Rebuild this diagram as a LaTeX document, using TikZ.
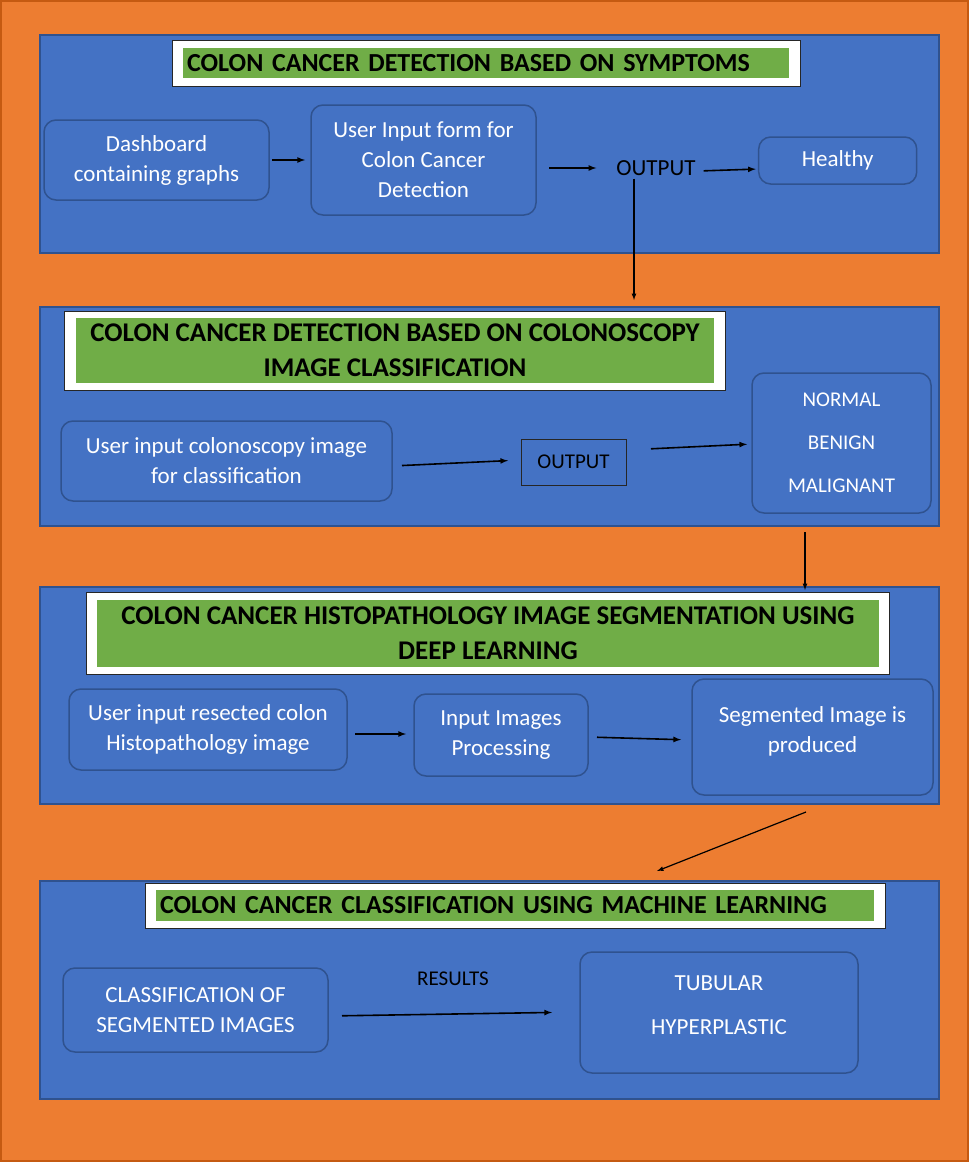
\documentclass[tikz,border=0pt]{standalone}
\usepackage{fontspec}
\setmainfont{Carlito}
\usepackage{xcolor}
\usetikzlibrary{arrows, positioning}
\definecolor{orangebg}{HTML}{ED7D31}
\definecolor{orangeline}{HTML}{C55A11}
\definecolor{panelblue}{HTML}{4472C4}
\definecolor{panelline}{HTML}{2F528F}
\definecolor{titlegreen}{HTML}{70AD47}
\tikzset{
  panel/.style={draw=panelline, fill=panelblue, line width=1.5pt, minimum width=899pt, inner sep=0pt, outer sep=0pt},
  whitebox/.style={draw=black!85, fill=white, line width=1pt, inner sep=0pt, outer sep=0pt},
  greenbox/.style={fill=titlegreen, inner sep=0pt, outer sep=0pt, font=\fontsize{26}{35}\selectfont\bfseries},
  stepbox/.style={draw=panelline, rounded corners=12pt, line width=1.5pt, text=white, align=center, inner sep=0pt, outer sep=0pt, font=\fontsize{23}{30}\selectfont},
  plain/.style={inner sep=3pt, font=\fontsize{23}{30}\selectfont},
  arrow/.style={->, >=latex, line width=1.6pt}
}
\begin{document}
\begin{tikzpicture}[x=1pt, y=-1pt]
    \useasboundingbox [fill=white] (0,0) rectangle (975,1167);
    \fill [orangebg, draw=orangeline, line width=1.5pt] (1,1) rectangle (968,1161);
    % the four panels
    \node [panel, minimum height=218pt] (p1) at (489.5,144) {};
    \node [panel, minimum height=219pt] (p2) at (489.5,416.5) {};
    \node [panel, minimum height=217pt] (p3) at (489.5,695.5) {};
    \node [panel, minimum height=218pt] (p4) at (489.5,990) {};
    % panel 1
    \node [whitebox, minimum width=628pt, minimum height=46pt] (t1box) at (486,63) {};
    \node [greenbox, minimum width=606pt, minimum height=30pt, text width=598pt, align=left] (t1) at (486,63) {COLON CANCER DETECTION BASED ON SYMPTOMS};
    \node [stepbox, minimum width=225pt, minimum height=80pt] (dash) at (156.5,160) {Dashboard\\containing graphs};
    \node [right=42pt of dash, stepbox, minimum width=225pt, minimum height=110pt] (form) {User Input form for\\Colon Cancer\\Detection};
    \node [plain] (out1) at (656,168) {OUTPUT};
    \node [right=60pt of out1, yshift=7.5pt, stepbox, minimum width=158pt, minimum height=47pt] (healthy) {Healthy};
    \draw [arrow, shorten <=3pt, shorten >=6pt] (dash) -- (form);
    \draw [arrow, shorten <=13pt, shorten >=17pt] (form.east |- out1.west) -- (out1.west);
    \draw [arrow, shorten <=5pt, shorten >=3pt] ([yshift=-3pt]out1.east) -- ([yshift=-8.5pt]healthy.west);
    \draw [arrow, line width=1.2pt, shorten >=7pt] ([xshift=-22pt]out1.south) -- ([xshift=-22pt]out1.south |- p2.north);
    % panel 2
    \node [whitebox, minimum width=661pt, minimum height=79pt] (t2box) at (394.5,350.5) {};
    \node [greenbox, minimum width=638pt, minimum height=65pt, align=center, font=\fontsize{27}{35}\selectfont\bfseries] (t2) at (395,350.5) {COLON CANCER DETECTION BASED ON COLONOSCOPY\\IMAGE CLASSIFICATION};
    \node [stepbox, minimum width=331pt, minimum height=80pt] (in2) at (226.5,461) {User input colonoscopy image\\for classification};
    \node [draw=black!85, line width=1pt, minimum width=105pt, minimum height=46pt, inner sep=0pt, outer sep=0pt, font=\fontsize{21}{30}\selectfont] (out2) at (573.5,462) {OUTPUT};
    \node [stepbox, minimum width=179pt, minimum height=140pt, font=\fontsize{21}{43}\selectfont] (res2) at (841.5,443) {NORMAL\\BENIGN\\MALIGNANT};
    \draw [arrow, shorten <=10pt, shorten >=13pt] ([yshift=-5pt]in2.east) -- ([yshift=2pt]out2.west);
    \draw [arrow, shorten <=25pt, shorten >=5pt] ([yshift=12pt]out2.east) -- ([yshift=-1pt]res2.west);
    \draw [arrow, line width=1.2pt, shorten <=19pt, shorten >=-3pt] ([xshift=-36.5pt]res2.south) -- ([xshift=-36.5pt]res2.south |- p3.north);
    % panel 3
    \node [whitebox, minimum width=803pt, minimum height=82pt] (t3box) at (487.5,633) {};
    \node [greenbox, minimum width=782pt, minimum height=67pt, align=center, font=\fontsize{27}{35}\selectfont\bfseries] (t3) at (488,633.5) {COLON CANCER HISTOPATHOLOGY IMAGE SEGMENTATION USING\\DEEP LEARNING};
    \node [stepbox, minimum width=278pt, minimum height=81pt] (in3) at (208,729.5) {User input resected colon\\Histopathology image};
    \node [right=67pt of in3, yshift=-5.5pt, stepbox, minimum width=174pt, minimum height=82pt] (proc3) {Input Images\\Processing};
    \node [stepbox, minimum width=241pt, minimum height=116pt, text depth=14pt] (seg3) at (812.5,737) {Segmented Image is\\produced};
    \draw [arrow, shorten <=8pt, shorten >=8pt] ([yshift=-4.5pt]in3.east) -- ([yshift=1pt]proc3.west);
    \draw [arrow, shorten <=9pt, shorten >=11pt] ([yshift=-2pt]proc3.east) -- ([yshift=-3pt]seg3.west);
    \coordinate (tip4) at ([shift={(167.5,-10)}]p4.north);
    \draw [arrow, line width=1.2pt] ([shift={(-6.5,17)}]seg3.south) -- (tip4);
    % panel 4
    \node [whitebox, minimum width=740pt, minimum height=45pt] (t4box) at (515,905.5) {};
    \node [greenbox, minimum width=718pt, minimum height=31pt, text width=710pt, align=left] (t4) at (515,905.5) {COLON CANCER CLASSIFICATION USING MACHINE LEARNING};
    \node [stepbox, minimum width=265pt, minimum height=84pt] (cls4) at (195.5,1010) {CLASSIFICATION OF\\SEGMENTED IMAGES};
    \node [stepbox, minimum width=278pt, minimum height=121pt, text depth=15pt, font=\fontsize{23}{44}\selectfont] (typ4) at (719,1012.5) {TUBULAR\\HYPERPLASTIC};
    \node [plain, font=\fontsize{21}{30}\selectfont] (rlabel) at (453,979) {RESULTS};
    \draw [arrow, shorten <=14pt, shorten >=28pt] ([yshift=-6pt]cls4.east) -- ([yshift=0.5pt]typ4.west);
  \end{tikzpicture}
\end{document}
